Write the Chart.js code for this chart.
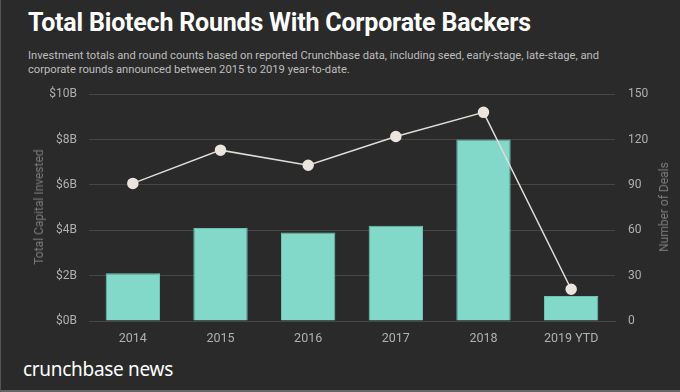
<!DOCTYPE html>
<html>
<head>
<meta charset="utf-8">
<script src="https://cdn.jsdelivr.net/npm/chart.js@4"></script>
<style>
    html, body { margin: 0; padding: 0; }
    body {
        width: 680px; height: 392px; background: #2a2a2a; overflow: hidden;
        font-family: Roboto, sans-serif; position: relative;
        box-sizing: border-box; border-left: 1px solid #555; border-bottom: 2px solid #666;
    }
    #title { position: absolute; left: 27px; top: 8px; color: #fff; font-size: 25px; font-weight: 700; letter-spacing: -0.2px; }
    #sub { position: absolute; left: 27px; top: 49px; width: 600px; color: #bdbdbd; font-size: 11.2px; line-height: 14px; }
    #logo { position: absolute; left: 22px; top: 356px; color: #fff; font-family: 'Noto Sans', sans-serif; font-size: 19px; font-weight: 400; letter-spacing: -0.3px; }
    #wrap { position: absolute; left: 0; top: 74px; width: 680px; height: 274px; }
    .axt { position: absolute; color: #7a7a7a; font-size: 12px; white-space: nowrap; transform: translate(-50%, -50%) rotate(-90deg); }
</style>
</head>
<body>
<div id="title">Total Biotech Rounds With Corporate Backers</div>
<div id="sub">Investment totals and round counts based on reported Crunchbase data, including seed, early-stage, late-stage, and corporate rounds announced between 2015 to 2019 year-to-date.</div>
<div id="wrap"><canvas id="chart"></canvas></div>
<div class="axt" style="left:38px; top:207px;">Total Capital Invested</div>
<div class="axt" style="left:663px; top:207px;">Number of Deals</div>
<div id="logo">crunchbase news</div>
<script>
// values
const years = ['2014', '2015', '2016', '2017', '2018', '2019 YTD'];
const capital = [2.1, 4.1, 3.9, 4.2, 8.0, 1.1]; // $B
const deals = [91, 113, 103, 122, 138, 21];

const tickColor = '#b0b0b0';
const gridColor = '#464646';

const chart = new Chart(document.querySelector('#chart'), {
    type: 'bar',
    data: {
        labels: years,
        datasets: [{
            type: 'line',
            label: 'Number of Deals',
            data: deals,
            yAxisID: 'y1',
            borderColor: '#e0dcd6',
            borderWidth: 1.5,
            pointBackgroundColor: '#ebe5de',
            pointBorderColor: '#ebe5de',
            pointRadius: 5,
            tension: 0,
            order: 0
        }, {
            label: 'Total Capital Invested',
            data: capital,
            yAxisID: 'y',
            backgroundColor: '#82d9c9',
            borderColor: '#6cc5b4',
            borderWidth: 1,
            barPercentage: 0.62,
            categoryPercentage: 1,
            order: 1
        }]
    },
    options: {
        responsive: true,
        maintainAspectRatio: false,
        animation: false,
        layout: { padding: { top: 6, left: 0, right: 0 } },
        plugins: {
            legend: { display: false },
            tooltip: { enabled: false }
        },
        scales: {
            x: {
                grid: { display: false },
                border: { color: gridColor },
                ticks: { color: tickColor, font: { family: 'Roboto', size: 12.5 }, padding: 2 }
            },
            y: {
                position: 'left',
                min: 0,
                max: 10,
                grid: { color: gridColor, drawTicks: false },
                border: { display: false },
                ticks: {
                    stepSize: 2,
                    color: tickColor,
                    padding: 12,
                    font: { family: 'Roboto', size: 12 },
                    callback: v => '$' + v + 'B'
                },
                afterFit: s => { s.width = 88; }
            },
            y1: {
                position: 'right',
                min: 0,
                max: 150,
                grid: { display: false, drawTicks: false },
                border: { display: false },
                ticks: { stepSize: 30, color: tickColor, padding: 13, font: { family: 'Roboto', size: 12 } },
                afterFit: s => { s.width = 66; }
            }
        }
    }
});
</script>
</body>
</html>
